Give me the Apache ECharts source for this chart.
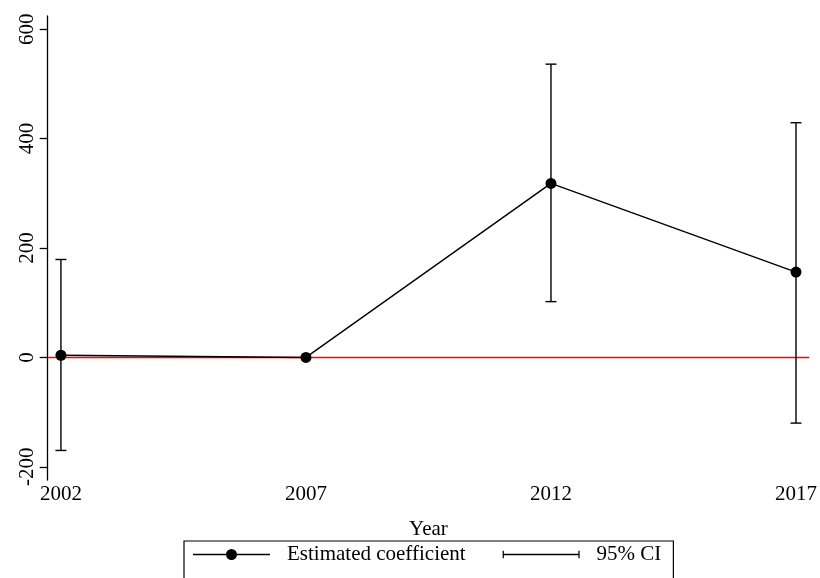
<!DOCTYPE html>
<html>
<head>
<meta charset="utf-8">
<script src="https://cdn.jsdelivr.net/npm/echarts@6/dist/echarts.min.js"></script>
<style>
  html, body { margin: 0; padding: 0; background: #fff; }
  #chart { width: 820px; height: 578px; }
</style>
</head>
<body>
<div id="chart"></div>
<script>
// Event-study estimates by survey year
const years = [2002, 2007, 2012, 2017];
const coef = [4, 0, 318, 156];
const ciLow = [-170, null, 102, -120];
const ciHigh = [179, null, 536, 429];
const yTicks = [-200, 0, 200, 400, 600];
const refLine = [0];

const X_MIN = 2001.73, X_MAX = 2017.27;
const FONT = '"Liberation Serif", "Times New Roman", serif';

const pointData = years.map((y, i) => [y, coef[i]]);
const ciData = years
  .map((y, i) => [y, ciLow[i], ciHigh[i]])
  .filter(d => d[1] !== null);

const chart = echarts.init(document.getElementById('chart'), null, { renderer: 'canvas' });

const lineIcon = 'path://M0,5.35 L33,5.35 L33,6.65 L0,6.65 Z M44,5.35 L77,5.35 L77,6.65 L44,6.65 Z M33,6 A5.5,5.5 0 1,1 44,6 A5.5,5.5 0 1,1 33,6 Z';
const ciIcon = 'path://M0,2 L1.3,2 L1.3,5.35 L78.7,5.35 L78.7,2 L80,2 L80,10 L78.7,10 L78.7,6.65 L1.3,6.65 L1.3,10 L0,10 Z';

chart.setOption({
  animation: false,
  backgroundColor: '#fff',
  textStyle: { fontFamily: FONT, color: '#000' },
  grid: { left: 47.7, right: 9, top: 16, bottom: 98 },
  xAxis: {
    type: 'value',
    min: X_MIN,
    max: X_MAX,
    name: 'Year',
    nameLocation: 'middle',
    nameGap: 39,
    nameTextStyle: { fontFamily: FONT, fontSize: 21, color: '#000' },
    axisLine: { show: false },
    axisTick: { show: false },
    splitLine: { show: false },
    axisLabel: {
      customValues: years,
      formatter: v => String(v),
      fontFamily: FONT, fontSize: 21, color: '#000', margin: 4
    }
  },
  yAxis: {
    type: 'value',
    min: -224,
    max: 624,
    axisLine: { show: true, onZero: false, lineStyle: { color: '#000', width: 1.3 } },
    axisTick: { show: true, customValues: yTicks, length: 8, lineStyle: { color: '#000', width: 1.3 } },
    splitLine: { show: false },
    axisLabel: {
      customValues: yTicks,
      rotate: 90,
      formatter: v => String(v),
      fontFamily: FONT, fontSize: 21, color: '#000', margin: 10
    }
  },
  legend: {
    left: 184,
    top: 541,
    orient: 'horizontal',
    borderColor: '#000',
    borderWidth: 1.2,
    padding: [2, 12, 30, 9],
    itemGap: 37,
    itemWidth: 77,
    itemHeight: 12,
    textStyle: { fontFamily: FONT, fontSize: 21, color: '#000', lineHeight: 23, padding: [0, 0, 0, 12] },
    data: [
      { name: 'Estimated coefficient', icon: lineIcon, itemStyle: { color: '#000' } },
      { name: '95% CI', icon: ciIcon, itemStyle: { color: '#000' } }
    ],
    selectedMode: false
  },
  series: [
    {
      // horizontal reference line at zero, spanning the plot
      type: 'custom',
      silent: true,
      z: 1,
      data: refLine.map(v => [v]),
      renderItem: function (params, api) {
        const v = api.value(0);
        const a = api.coord([X_MIN, v]);
        const b = api.coord([X_MAX, v]);
        return {
          type: 'line',
          shape: { x1: a[0], y1: a[1], x2: b[0], y2: b[1] },
          style: { stroke: '#ff0000', lineWidth: 1.6 }
        };
      },
      encode: { y: 0 }
    },
    {
      name: '95% CI',
      type: 'custom',
      z: 2,
      itemStyle: { color: '#000' },
      data: ciData,
      renderItem: function (params, api) {
        const x = api.value(0);
        const lo = api.coord([x, api.value(1)]);
        const hi = api.coord([x, api.value(2)]);
        const half = 5.5;
        const style = { stroke: '#000', lineWidth: 1.4 };
        return {
          type: 'group',
          children: [
            { type: 'line', shape: { x1: lo[0], y1: lo[1], x2: hi[0], y2: hi[1] }, style },
            { type: 'line', shape: { x1: lo[0] - half, y1: lo[1], x2: lo[0] + half, y2: lo[1] }, style },
            { type: 'line', shape: { x1: hi[0] - half, y1: hi[1], x2: hi[0] + half, y2: hi[1] }, style }
          ]
        };
      }
    },
    {
      name: 'Estimated coefficient',
      type: 'line',
      z: 3,
      data: pointData,
      symbol: 'circle',
      symbolSize: 11,
      showAllSymbol: true,
      itemStyle: { color: '#000' },
      lineStyle: { color: '#000', width: 1.4 }
    }
  ]
});
</script>
</body>
</html>
